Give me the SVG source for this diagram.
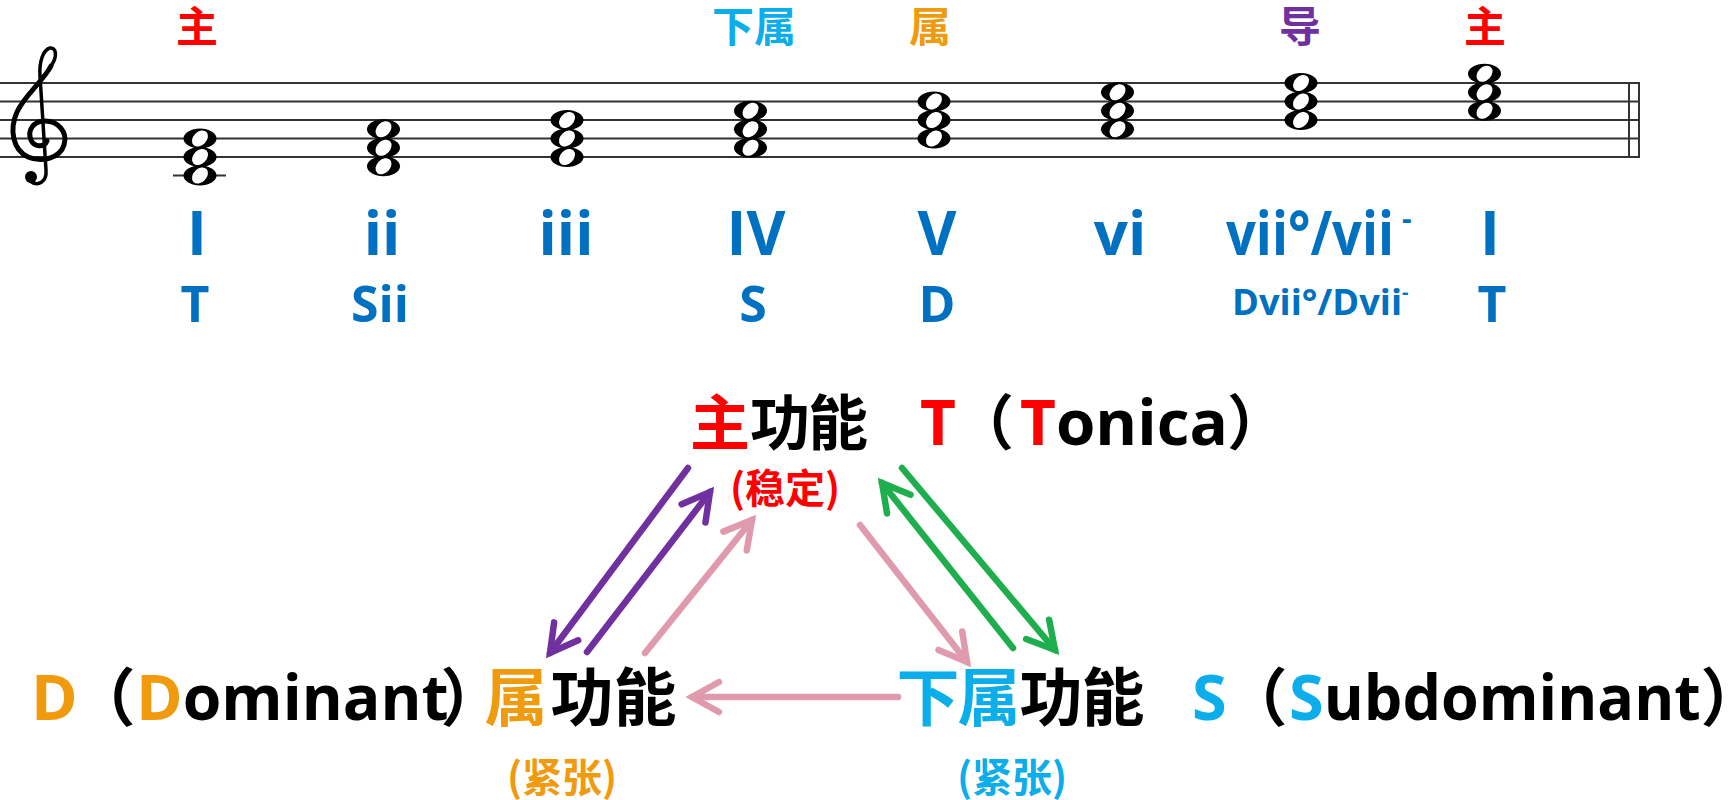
<svg xmlns="http://www.w3.org/2000/svg" width="1735" height="800" viewBox="0 0 1735 800">
<style>
.lat{font-family:"Open Sans","Noto Sans",sans-serif;font-weight:700}
.cjk{font-family:"Noto Sans CJK SC","Noto Sans",sans-serif;font-weight:700}
.blue{fill:#0070C0}
.red{fill:#FF0000}
.org{fill:#F09A0E}
.sky{fill:#0BAEEA}
.pur{fill:#7030A0}
.blk{fill:#000}
.staff{stroke:#333;stroke-width:2}
.arr{fill:none;stroke-width:6.5;stroke-linecap:round}
</style>
<defs>
<g id="wn"><ellipse rx="16.5" ry="10" fill="#000"/><ellipse rx="6.6" ry="9.2" transform="rotate(45)" fill="#fff"/></g>
<marker id="mP" markerUnits="userSpaceOnUse" markerWidth="60" markerHeight="60" viewBox="-40 -30 60 60" refX="0" refY="0" orient="auto"><path d="M-27,-15 L0,0 L-27,15" fill="none" stroke="#7030A0" stroke-width="6.5" stroke-linecap="round" stroke-linejoin="miter"/></marker>
<marker id="mG" markerUnits="userSpaceOnUse" markerWidth="60" markerHeight="60" viewBox="-40 -30 60 60" refX="0" refY="0" orient="auto"><path d="M-27,-15 L0,0 L-27,15" fill="none" stroke="#1EAE4E" stroke-width="6.5" stroke-linecap="round" stroke-linejoin="miter"/></marker>
<marker id="mK" markerUnits="userSpaceOnUse" markerWidth="60" markerHeight="60" viewBox="-40 -30 60 60" refX="0" refY="0" orient="auto"><path d="M-27,-15 L0,0 L-27,15" fill="none" stroke="#E09AAE" stroke-width="6.5" stroke-linecap="round" stroke-linejoin="miter"/></marker>
</defs>
<rect width="1735" height="800" fill="#fff"/>

<g id="staff">
<line class="staff" x1="0" y1="83" x2="1639" y2="83"/>
<line class="staff" x1="0" y1="101.5" x2="1639" y2="101.5"/>
<line class="staff" x1="0" y1="120" x2="1639" y2="120"/>
<line class="staff" x1="0" y1="138.5" x2="1639" y2="138.5"/>
<line class="staff" x1="0" y1="157" x2="1639" y2="157"/>
<line class="staff" x1="1629" y1="82" x2="1629" y2="158"/>
<line class="staff" x1="1639" y1="82" x2="1639" y2="158"/>
</g>

<g id="clef" fill="none" stroke="#000" stroke-linecap="round">
<path d="M51,66 C44,80 24,96 17,112 C9,130 13,150 28,157 C42,163 60,158 64,145 C68,132 58,121 45,121 C33,121 27,131 31,140 C34,147 44,148 47,141" stroke-width="5"/>
<path d="M51,66 C58,56 56,47 50,48 C43,50 39,62 40,76 L46,170 C47,182 38,187 30,181" stroke-width="3.5"/>
<circle cx="31" cy="177" r="6" fill="#000" stroke="none"/>
</g>

<g id="chord-I">
<line class="staff" x1="173" y1="175.5" x2="226" y2="175.5"/>
<use href="#wn" x="200" y="175.5"/><use href="#wn" x="200" y="157"/><use href="#wn" x="200" y="138.5"/>
</g>
<g id="chord-ii"><use href="#wn" x="383.5" y="166.25"/><use href="#wn" x="383.5" y="147.75"/><use href="#wn" x="383.5" y="129.25"/></g>
<g id="chord-iii"><use href="#wn" x="567" y="157"/><use href="#wn" x="567" y="138.5"/><use href="#wn" x="567" y="120"/></g>
<g id="chord-IV"><use href="#wn" x="750.5" y="147.75"/><use href="#wn" x="750.5" y="129.25"/><use href="#wn" x="750.5" y="110.75"/></g>
<g id="chord-V"><use href="#wn" x="934" y="138.5"/><use href="#wn" x="934" y="120"/><use href="#wn" x="934" y="101.5"/></g>
<g id="chord-vi"><use href="#wn" x="1117.5" y="129.25"/><use href="#wn" x="1117.5" y="110.75"/><use href="#wn" x="1117.5" y="92.25"/></g>
<g id="chord-vii"><use href="#wn" x="1301" y="120"/><use href="#wn" x="1301" y="101.5"/><use href="#wn" x="1301" y="83"/></g>
<g id="chord-I2"><use href="#wn" x="1484.5" y="110.75"/><use href="#wn" x="1484.5" y="92.25"/><use href="#wn" x="1484.5" y="73.75"/></g>

<g id="top-labels" class="cjk" font-size="42" text-anchor="middle">
<text x="197" y="42" class="red">主</text>
<text x="754" y="42" class="sky">下属</text>
<text x="930" y="42" class="org">属</text>
<text x="1300" y="42" class="pur">导</text>
<text x="1485" y="42" class="red">主</text>
</g>

<g id="roman" class="lat blue" font-size="60" text-anchor="middle">
<text x="197" y="255">I</text>
<text x="382" y="255">ii</text>
<text x="566" y="255">iii</text>
<text x="756" y="255">IV</text>
<text x="937" y="255">V</text>
<text x="1120" y="255">vi</text>
<text x="1226" y="255" text-anchor="start"><tspan textLength="168" lengthAdjust="spacingAndGlyphs">vii°/vii</tspan><tspan font-size="30" dx="8" dy="-26">-</tspan></text>
<text x="1490" y="255">I</text>
</g>

<g id="func" class="lat blue" font-size="50" text-anchor="middle">
<text x="195" y="322">T</text>
<text x="380" y="322">Sii</text>
<text x="753" y="322">S</text>
<text x="937" y="322">D</text>
<text x="1232" y="315" font-size="35" text-anchor="start"><tspan textLength="170" lengthAdjust="spacingAndGlyphs">Dvii°/Dvii</tspan><tspan font-size="20" dy="-16">-</tspan></text>
<text x="1492" y="322">T</text>
</g>

<g id="node-T">
<g class="cjk" font-size="60" text-anchor="middle">
<text x="720" y="445" class="red">主</text>
<text x="780" y="445" class="blk">功</text>
<text x="838" y="445" class="blk">能</text>
<text x="984" y="445" class="blk">（</text>
<text x="1257" y="445" class="blk">）</text>
</g>
<text x="920" y="445" class="lat red" font-size="62">T</text>
<text x="1020" y="445" class="lat" font-size="62"><tspan class="red">T</tspan><tspan class="blk" textLength="172" lengthAdjust="spacingAndGlyphs">onica</tspan></text>
<text x="785" y="503" class="cjk red" font-size="40" text-anchor="middle">(稳定)</text>
</g>

<g id="node-D">
<text x="31" y="720" class="lat org" font-size="63">D</text>
<text x="136" y="720" class="lat" font-size="63"><tspan class="org">D</tspan><tspan class="blk" textLength="266" lengthAdjust="spacingAndGlyphs">ominant</tspan></text>
<g class="cjk" font-size="63" text-anchor="middle">
<text x="104" y="720" class="blk">（</text>
<text x="472" y="720" class="blk">）</text>
<text x="516" y="720" class="org">属</text>
<text x="582" y="720" class="blk">功</text>
<text x="645" y="720" class="blk">能</text>
</g>
<text x="562" y="792" class="cjk org" font-size="40" text-anchor="middle">(紧张)</text>
</g>

<g id="node-S">
<g class="cjk" font-size="63" text-anchor="middle">
<text x="928" y="720" class="sky">下</text>
<text x="989" y="720" class="sky">属</text>
<text x="1051" y="720" class="blk">功</text>
<text x="1113" y="720" class="blk">能</text>
<text x="1256" y="720" class="blk">（</text>
<text x="1732" y="720" class="blk">）</text>
</g>
<text x="1192" y="720" class="lat sky" font-size="63">S</text>
<text x="1289" y="720" class="lat" font-size="63"><tspan class="sky">S</tspan><tspan class="blk" textLength="377" lengthAdjust="spacingAndGlyphs">ubdominant</tspan></text>
<text x="1012" y="792" class="cjk sky" font-size="40" text-anchor="middle">(紧张)</text>
</g>

<g id="connectors" class="arr">
<line x1="688" y1="468" x2="550" y2="653" stroke="#7030A0" marker-end="url(#mP)"/>
<line x1="587" y1="652" x2="710" y2="492" stroke="#7030A0" marker-end="url(#mP)"/>
<line x1="645" y1="653" x2="752" y2="520" stroke="#E09AAE" marker-end="url(#mK)"/>
<line x1="860" y1="525" x2="967" y2="662" stroke="#E09AAE" marker-end="url(#mK)"/>
<line x1="902" y1="468" x2="1055" y2="650" stroke="#1EAE4E" marker-end="url(#mG)"/>
<line x1="1013" y1="648" x2="882" y2="483" stroke="#1EAE4E" marker-end="url(#mG)"/>
<line x1="898" y1="697" x2="692" y2="697" stroke="#E09AAE" marker-end="url(#mK)"/>
</g>
</svg>
